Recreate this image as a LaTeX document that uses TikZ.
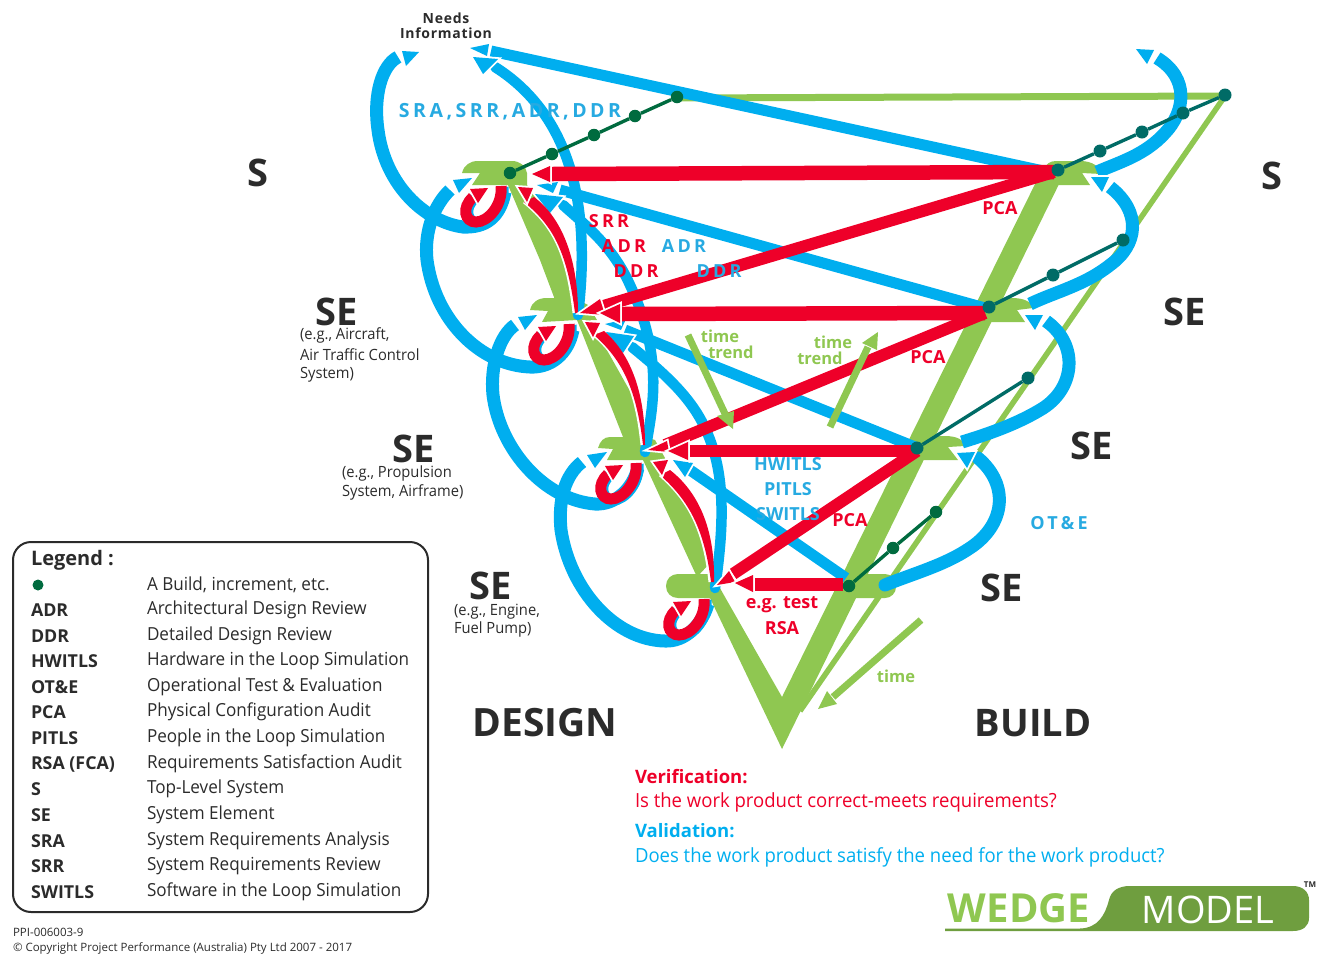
\documentclass[tikz,border=0pt]{standalone}
\usepackage{fontspec}
\setmainfont{Open Sans}
\newfontfamily\regf{Open Sans}[FakeStretch=0.95]
\definecolor{gr}{HTML}{8FC751}
\definecolor{bl}{HTML}{00AEEF}
\definecolor{lb}{HTML}{27AAE1}
\definecolor{rd}{HTML}{EE0029}
\definecolor{dg}{HTML}{006B3F}
\definecolor{tl}{HTML}{006B66}
\definecolor{ink}{HTML}{2B2B2B}
\definecolor{logo}{HTML}{6F9E3F}
\newcommand\fs[1]{\fontsize{#1}{#1}\selectfont}
\newcommand\tri[4]{\draw[white,fill=white,line width=3.6pt,miter limit=6] #2 -- #3 -- #4 -- cycle; \fill[#1] #2 -- #3 -- #4 -- cycle;}
\newcommand\lsp[1]{\addfontfeature{LetterSpace=#1}}
\tikzset{
  x=1pt,y=-1pt,
  bb/.style={bl,line width=13pt},
  bs/.style={bl,line width=11pt},
  rr/.style={rd,line width=12pt},
  tg/.style={gr,line width=6.5pt},
  gd/.style={circle,fill=dg,inner sep=0,minimum size=12.5pt},
  td/.style={circle,fill=tl,inner sep=0,minimum size=13pt},
  gl/.style={dg,line width=3.4pt},
  tll/.style={tl,line width=3.4pt},
  tx/.style={inner sep=0,outer sep=0,align=center},
  lt/.style={tx,anchor=west,align=left},
  big/.style={tx,text=ink,font=\fs{38}\bfseries},
  sm/.style={lt,text=ink,font=\fs{15.5}\regf},
  kk/.style={lt,text=ink,font=\fs{17.8}\bfseries},
  vv/.style={lt,text=ink,font=\fs{18}\regf},
  rl/.style={tx,text=rd,font=\fs{18}\bfseries},
  bll/.style={tx,text=lb,font=\fs{18}\bfseries},
  gt/.style={tx,text=gr,font=\fs{16.5}\bfseries},
  spr/.style={tx,text=rd,font=\fs{18}\bfseries\lsp{18}},
  spb/.style={tx,text=lb,font=\fs{18}\bfseries\lsp{18}},
}
\begin{document}
\begin{tikzpicture}
\useasboundingbox (0,0) rectangle (1320,962);
% thin green lines
\coordinate (gtop) at (677,98);
\coordinate (gtr) at (1225,96);
\coordinate (gend) at (800,711);
\draw[gr,line width=7pt] (gtop) -- (gtr);
\draw[gr,line width=5.5pt] (gtr) -- (gend);
% wedge
\fill[gr] (462,173) .. controls (464,165) and (470,161) .. (478,161) -- (512,161) .. controls (520,161) and (526,166) .. (527,173) -- (527,185) .. controls (545,210) and (566,235) .. (570,262) -- (576,313) -- (560,313) -- (540,260) -- (508,185) -- (472,185) -- (480,173) -- cycle;
\fill[gr] (530,310) .. controls (532,302) and (538,298) .. (547,298) -- (575,298) -- (588,305) -- (597,320) -- (590,320) -- (635,400) .. controls (640,415) and (642,428) .. (643,440) -- (623,437) -- (577,320) -- (542,322) -- (548,311) -- cycle;
\fill[gr] (598,448) .. controls (600,441) and (604,437) .. (610,437) -- (645,437) -- (655,440) -- (665,458) -- (663,473) .. controls (685,500) and (703,530) .. (710,563) -- (697,577) -- (643,460) -- (607,460) -- (613,449) -- cycle;
\fill[gr] (678,574) .. controls (671,574) and (666,579) .. (666,586) .. controls (666,593) and (671,598) .. (678,598) -- (710,598) -- (782,749) -- (1062,178) -- (1038,178) -- (782,697) -- (725,597) -- (712,574) -- cycle;
\fill[gr] (1043,170) .. controls (1046,164) and (1050,161) .. (1056,161) -- (1080,161) .. controls (1093,161) and (1100,167) .. (1101,174) -- (1082,173) -- (1090,185) -- (1058,185) -- (1038,178) -- cycle;
\fill[gr] (975,310) .. controls (978,302) and (982,298) .. (990,298) -- (1012,298) .. controls (1024,298) and (1032,302) .. (1033,308) -- (1017,310) -- (1025,322) -- (990,322) -- cycle;
\fill[gr] (908,443) .. controls (911,438) and (914,436) .. (920,436) -- (945,436) .. controls (957,436) and (964,440) .. (965,446) -- (948,447) -- (958,460) -- (915,460) -- cycle;
\fill[gr,rounded corners=11pt] (842,574) rectangle (896,598);
% left big blue arcs
\coordinate (h1) at (505,192); \coordinate (na) at (398,57);
\coordinate (h2) at (573,330); \coordinate (n1l) at (450,190);
\coordinate (h3) at (638,468); \coordinate (n2l) at (515,325);
\coordinate (h4) at (708,604); \coordinate (n3l) at (582,462);
\draw[bb] (h1) .. controls (500,218) and (485,228) .. (463,227) .. controls (425,222) and (385,185) .. (378,130) .. controls (373,95) and (382,65) .. (na);
\draw[bb] (h2) .. controls (568,355) and (550,368) .. (530,367) .. controls (480,365) and (435,320) .. (427,260) .. controls (424,232) and (434,205) .. (n1l);
\draw[bb] (h3) .. controls (632,490) and (615,505) .. (595,504) .. controls (545,500) and (500,450) .. (493,395) .. controls (490,365) and (500,335) .. (n2l);
\draw[bb] (h4) .. controls (702,625) and (685,642) .. (665,641) .. controls (615,640) and (570,590) .. (561,530) .. controls (558,500) and (565,475) .. (n3l);
% long blue lines
\coordinate (b5a) at (1048,172); \coordinate (b5b) at (491,51);
\draw[bs] (b5a) -- (b5b);
\coordinate (b6a) at (578,315); \coordinate (b6b) at (495,67);
\draw[bl,line width=10.5pt,line cap=round] (b6a) .. controls (587,240) and (587,125) .. (b6b);
\coordinate (b7a) at (985,308); \coordinate (b7b) at (560,190);
\draw[bs] (b7a) -- (b7b);
\coordinate (b8a) at (645,452); \coordinate (b8b) at (563,205);
\draw[bl,line width=10.5pt,line cap=round] (b8a) .. controls (652,410) and (665,360) .. (630,285) .. controls (612,245) and (585,225) .. (b8b);
\coordinate (b9a) at (915,447); \coordinate (b9b) at (625,330);
\draw[bs] (b9a) -- (b9b);
\coordinate (b10a) at (715,588); \coordinate (b10b) at (632,347);
\draw[bl,line width=10.5pt,line cap=round] (b10a) .. controls (725,520) and (725,470) .. (705,428) .. controls (690,395) and (660,370) .. (b10b);
\coordinate (b11a) at (846,578); \coordinate (b11b) at (690,470);
\draw[bs] (b11a) -- (b11b);
% right blue arcs
\coordinate (rb1a) at (1097,172); \coordinate (rb1b) at (1157,58);
\coordinate (rb2a) at (1030,304); \coordinate (rb2b) at (1110,187);
\coordinate (rb3a) at (962,442); \coordinate (rb3b) at (1046,321);
\coordinate (rb4a) at (885,585); \coordinate (rb4b) at (978,458);
\draw[bb] (rb1a) .. controls (1120,162) and (1145,155) .. (1165,133) .. controls (1185,112) and (1190,78) .. (rb1b);
\draw[bb] (rb2a) .. controls (1055,292) and (1085,285) .. (1110,265) .. controls (1138,245) and (1142,212) .. (rb2b);
\draw[bb] (rb3a) .. controls (985,435) and (1015,425) .. (1040,410) .. controls (1075,390) and (1080,345) .. (rb3b);
\draw[bb,line cap=round] (rb4a) .. controls (915,573) and (945,565) .. (970,548) .. controls (1005,525) and (1010,485) .. (rb4b);
% blue arrowheads
\tri{bl}{(419,52)}{(402,51)}{(406,66)}
\tri{bl}{(472,178)}{(453,180)}{(459,193)}
\tri{bl}{(537,315)}{(518,317)}{(525,330)}
\tri{bl}{(607,452)}{(587,455)}{(595,468)}
\tri{bl}{(470,48)}{(489,44)}{(487,56)}
\tri{bl}{(473,57)}{(498,59)}{(483,74)}
\tri{bl}{(537,185)}{(558,182)}{(553,193)}
\tri{bl}{(535,194)}{(563,197)}{(550,213)}
\tri{bl}{(605,324)}{(626,319)}{(621,330)}
\tri{bl}{(606,332)}{(634,336)}{(623,353)}
\tri{bl}{(673,460)}{(693,463)}{(685,477)}
\tri{bl}{(1136,49)}{(1154,50)}{(1147,64)}
\tri{bl}{(1091,177)}{(1109,177)}{(1102,192)}
\tri{bl}{(1025,315)}{(1043,315)}{(1035,330)}
\tri{bl}{(957,453)}{(975,452)}{(967,468)}
% red hooks
\foreach \dx/\dy in {0/0,68/138,135/277,203/413}{
\begin{scope}[shift={(\dx,\dy)}]
\draw[bl,line width=11pt] (503,187) .. controls (505,205) and (490,223) .. (478,223) .. controls (467,223) and (463,208) .. (475,198);
\draw[rd,line width=11pt] (501,186) .. controls (503,205) and (488,222) .. (476,222) .. controls (465,222) and (461,208) .. (473,197);
\tri{rd}{(470,189)}{(488,188)}{(478,203)}
\end{scope}}
% red curves
\draw[white,line width=3pt] (524,202) .. controls (552,225) and (567,250) .. (574,313);
\fill[rd] (524,202) .. controls (552,225) and (567,250) .. (575,313) -- (578,313) .. controls (578,265) and (565,220) .. (534,197) -- cycle;
\draw[white,line width=3pt] (594,335) .. controls (620,358) and (636,385) .. (642,445);
\fill[rd] (594,335) .. controls (620,358) and (636,385) .. (643,445) -- (645,445) .. controls (645,395) and (632,355) .. (604,331) -- cycle;
\draw[white,line width=3pt] (660,475) .. controls (686,498) and (704,525) .. (710,582);
\fill[rd] (660,475) .. controls (686,498) and (704,525) .. (711,582) -- (714,582) .. controls (715,535) and (702,495) .. (670,470) -- cycle;
\tri{rd}{(518,187)}{(533,188)}{(527,202)}
\tri{rd}{(585,322)}{(600,323)}{(593,337)}
\tri{rd}{(653,462)}{(668,460)}{(662,475)}
% red straight lines
\coordinate (n1r) at (1054,172);
\coordinate (n2r) at (985,313);
\coordinate (n3r) at (917,451);
\coordinate (n4r) at (843,584);
\coordinate (r1t) at (552,174);
\coordinate (r2t) at (600,307);
\coordinate (r3t) at (622,314);
\coordinate (r4t) at (665,445);
\coordinate (r5t) at (688,451);
\coordinate (r6t) at (733,574);
\coordinate (r7t) at (754,584);
\draw[rd,line width=14.5pt] (n1r) -- (r1t);
\draw[rr] (n1r) -- (r2t);
\tri{rd}{(580,313)}{(600,299)}{(605,315)}
\draw[rd,line width=14.5pt] (n2r) -- (r3t);
\tri{rd}{(600,313)}{(620,304)}{(620,323)}
\draw[rr] (n2r) -- (r4t);
\tri{rd}{(648,450)}{(667,441)}{(669,452)}
\draw[rr] (n3r) -- (r5t);
\tri{rd}{(668,451)}{(688,442)}{(688,460)}
\draw[rr] (n3r) -- (r6t);
\tri{rd}{(717,585)}{(729,571)}{(735,582)}
\draw[rd,line width=13pt] (n4r) -- (r7t);
\tri{rd}{(735,583)}{(753,575)}{(753,592)}
\tri{rd}{(532,174)}{(550,166)}{(550,182)}
% trend arrows
\coordinate (t1a) at (688,335); \coordinate (t1b) at (727,418);
\coordinate (t2a) at (830,427); \coordinate (t2b) at (868,347);
\coordinate (t3a) at (921,620); \coordinate (t3b) at (833,697);
\draw[gr,line width=7pt] (t1a) -- (t1b);
\draw[gr,line width=7pt] (t2a) -- (t2b);
\draw[gr,line width=7pt] (t3a) -- (t3b);
\fill[gr] (717,416) -- (734,411) -- (733,429) -- cycle;
\fill[gr] (862,343) -- (878,332) -- (877,350) -- cycle;
\fill[gr] (818,709) -- (827,691) -- (837,704) -- cycle;
% dots
\node[gd] (d1) at (510,173) {};
\node[gd] (d2) at (552,154) {};
\node[gd] (d3) at (594,135) {};
\node[gd] (d4) at (635,116) {};
\node[gd] (d5) at (677,97) {};
\draw[gl] (d1) -- (d2) -- (d3) -- (d4) -- (d5);
\node[td] (e1) at (1058,170) {};
\node[td] (e2) at (1100,151) {};
\node[td] (e3) at (1142,132) {};
\node[td] (e4) at (1183,113) {};
\node[td] (e5) at (1225,95) {};
\draw[tll] (e1) -- (e2) -- (e3) -- (e4) -- (e5);
\node[td] (f1) at (989,307) {};
\node[td] (f2) at (1053,275) {};
\node[td] (f3) at (1123,240) {};
\draw[tll] (f1) -- (f2) -- (f3);
\node[td] (g1) at (917,448) {};
\node[td] (g2) at (1028,378) {};
\draw[tll] (g1) -- (g2);
\node[gd] (k1) at (849,586) {};
\node[gd] (k2) at (893,548) {};
\node[gd] (k3) at (936,512) {};
\draw[gl] (k1) -- (k2) -- (k3);
% labels
\node[tx,text=ink,font=\fontsize{14}{15}\selectfont\bfseries\lsp{5}] (needs) at (446,25.5) {Needs\\Information};
\node[tx,text=lb,font=\fs{19.5}\bfseries\lsp{18}] (sra) at (510,112) {SRA,SRR,ADR,DDR};
\node[big] (s1) at (258,173) {S};
\node[big] (s2) at (1272,176) {S};
\node[big] (se1) at (337,312) {SE};
\node[big] (se2) at (414,449) {SE};
\node[big] (se3) at (491,586) {SE};
\node[big] (se4) at (1185,312) {SE};
\node[big] (se5) at (1092,446) {SE};
\node[big] (se6) at (1002,588) {SE};
\node[sm] (a1) at (300,335.5) {(e.g., Aircraft,};
\node[sm] (a2) at (300,354.5) {Air Traffic Control};
\node[sm] (a3) at (300,374.5) {System)};
\node[sm] (b1) at (342,473.5) {(e.g., Propulsion};
\node[sm] (b2) at (342,492.5) {System, Airframe)};
\node[sm] (c1) at (454,611.5) {(e.g., Engine,};
\node[sm] (c2) at (454,629.5) {Fuel Pump)};
\node[big,font=\fs{39}\bfseries] (design) at (545,723) {DESIGN};
\node[big] (build) at (1033,723) {BUILD};
\node[spr] (l1) at (609,221) {SRR};
\node[spr] (l2) at (624,246) {ADR};
\node[spb] (l3) at (684,246) {ADR};
\node[spr] (l4) at (636,271) {DDR};
\node[spb] (l5) at (719,271) {DDR};
\node[rl] (p1) at (1000,208) {PCA};
\node[rl] (p2) at (928,357) {PCA};
\node[rl] (p3) at (850,520) {PCA};
\node[gt] (t1) at (720,336) {time};
\node[gt] (t2) at (731,352) {trend};
\node[gt] (t3) at (833,342) {time};
\node[gt] (t4) at (820,358) {trend};
\node[gt] (t5) at (896,676) {time};
\node[bll] (m1) at (788,464) {HWITLS};
\node[bll] (m2) at (788,489) {PITLS};
\node[bll] (m3) at (788,514) {SWITLS};
\node[rl] (m4) at (782,605) {e.g. test};
\node[rl] (m5) at (782,628) {RSA};
\node[spb] (ote) at (1059,523) {OT\&E};
\node[lt,text=rd,font=\fs{18.5}\bfseries] (v1) at (635,777) {Verification:};
\node[lt,text=rd,font=\fs{19.5}\regf] (v2) at (635,802.5) {Is the work product correct-meets requirements?};
\node[lt,text=bl,font=\fs{18.5}\bfseries] (v3) at (635,831) {Validation:};
\node[lt,text=bl,font=\fs{19.5}\regf] (v4) at (635,857) {Does the work product satisfy the need for the work product?};
% legend
\node[draw=ink,line width=2pt,rounded corners=18pt,minimum width=415pt,minimum height=370pt,inner sep=0] (legend) at (220.5,727) {};
\node[kk,font=\fs{20}\bfseries] (lg) at (31,560) {Legend :};
\node[circle,fill=dg,inner sep=0,minimum size=11pt] (ldot) at (38,585) {};
\foreach \nn/\yy/\kx/\vx in {
 0/584.7/{}/{A Build, increment, etc.},
 1/610.2/ADR/{Architectural Design Review},
 2/635.7/DDR/{Detailed Design Review},
 3/661.2/HWITLS/{Hardware in the Loop Simulation},
 4/687.2/{OT\&E}/{Operational Test \& Evaluation},
 5/712.2/PCA/{Physical Configuration Audit},
 6/738.2/PITLS/{People in the Loop Simulation},
 7/764.2/{RSA (FCA)}/{Requirements Satisfaction Audit},
 8/789.2/S/{Top-Level System},
 9/815.2/SE/{System Element},
 10/840.7/SRA/{System Requirements Analysis},
 11/866.2/SRR/{System Requirements Review},
 12/892.2/SWITLS/{Software in the Loop Simulation}}{
 \node[kk] (lk\nn) at (31,\yy) {\kx};
 \node[vv] (lv\nn) at (147,\yy) {\vx};
}
\node[lt,text=ink,font=\fs{11.5}] (cr1) at (13,932) {PPI-006003-9};
\node[lt,text=ink,font=\fs{11.5}] (cr2) at (13,948) {© Copyright Project Performance (Australia) Pty Ltd 2007 - 2017};
% logo
\fill[logo] (945,928.5) -- (1080,928.5) .. controls (1098,928) and (1105,915) .. (1109,900) .. controls (1111,891) and (1118,886) .. (1130,886) -- (1293,886) .. controls (1303,886) and (1309,892) .. (1309,900) -- (1309,918) .. controls (1309,926) and (1303,931) .. (1293,931) -- (945,931) -- cycle;
\node[tx,text=gr,font=\fs{40}\bfseries] (wedge) at (1019,908) {WEDGE};
\node[tx,text=white,font=\fs{38}] (model) at (1208,910) {MODEL};
\node[tx,text=ink,font=\fs{8}\bfseries] (tm) at (1310,885) {TM};
\end{tikzpicture}
\end{document}
